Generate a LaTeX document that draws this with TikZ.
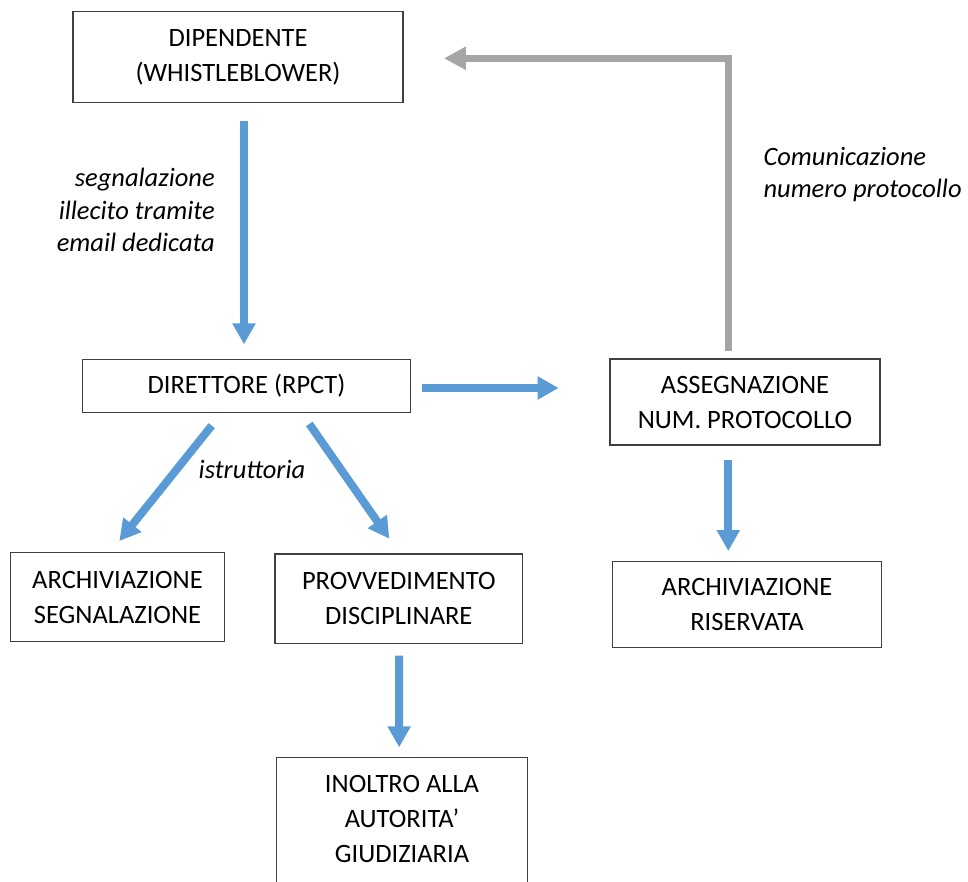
\documentclass[tikz,border=0pt]{standalone}
\usepackage{fontspec}
\setmainfont{Carlito}
\usetikzlibrary{arrows.meta}
\definecolor{ablue}{HTML}{5B9BD5}
\definecolor{agrey}{HTML}{A5A5A5}
\definecolor{boxline}{HTML}{404040}
\begin{document}
\begin{tikzpicture}[x=1pt,y=-1pt,
  box/.style={draw=boxline, line width=1.3pt, inner sep=0pt, align=center, font=\fontsize{26.5}{35}\selectfont},
  lab/.style={inner sep=0pt, font=\fontsize{26.5}{32.5}\selectfont\itshape},
  barrow/.style={draw=ablue, line width=8pt, -{Triangle[width=22pt,length=21pt]}},
  garrow/.style={draw=agrey, line width=7.5pt, -{Triangle[width=22pt,length=22pt]}}]
\useasboundingbox (0,0) rectangle (968,881);
\clip (0,0) rectangle (968,881);
\fill[white] (0,0) rectangle (968,881);

\node[box, minimum width=330pt, minimum height=91pt] (dip) at (238,57.2) {DIPENDENTE\\(WHISTLEBLOWER)};
\node[box, minimum width=328.4pt, minimum height=53.4pt] (dir) at (246.5,386) {DIRETTORE (RPCT)};
\node[box, minimum width=270pt, minimum height=86pt] (ass) at (745,402) {ASSEGNAZIONE\\NUM. PROTOCOLLO};
\node[box, minimum width=269.4pt, minimum height=85.6pt] (arcr) at (747,604.5) {ARCHIVIAZIONE\\RISERVATA};
\node[box, minimum width=213.6pt, minimum height=89pt] (arcs) at (117.5,597.2) {ARCHIVIAZIONE\\SEGNALAZIONE};
\node[box, minimum width=247.7pt, minimum height=89.3pt] (prov) at (398.8,598.7) {PROVVEDIMENTO\\DISCIPLINARE};
\node[box, draw=none, minimum width=249.4pt, minimum height=121.8pt, anchor=north] (inol) at (402,757.3) {INOLTRO ALLA\\AUTORITA’\\GIUDIZIARIA};
\draw[boxline, line width=1.3pt] ([yshift=-15pt]inol.south west) -- (inol.north west) -- (inol.north east) -- ([yshift=-15pt]inol.south east);

\draw[barrow, shorten <=17.3pt, shorten >=14.3pt] ([xshift=6pt]dip.south) -- ([xshift=-2.5pt]dir.north);
\draw[barrow, shorten <=11pt, shorten >=50.7pt] ([yshift=-2pt]dir.east) -- ([yshift=14pt]ass.west);
\draw[barrow] ([xshift=-34.8pt,yshift=-12.3pt]dir.south) -- ([xshift=1.8pt,yshift=11pt]arcs.north);
\draw[barrow] ([xshift=62.8pt,yshift=-10.6pt]dir.south) -- ([xshift=-9.5pt,yshift=14.7pt]prov.north);
\draw[barrow, shorten <=11.7pt, shorten >=10pt] ([xshift=0.2pt]prov.south) -- ([xshift=-2.8pt]inol.north);
\draw[barrow, shorten <=14.3pt, shorten >=10pt] ([xshift=-16.7pt]ass.south) -- ([xshift=-18.7pt]arcr.north);
\draw[garrow, shorten >=40.3pt] ([xshift=-16.7pt,yshift=7.3pt]ass.north) |- ([yshift=-1.1pt]dip.east);

\node[lab, align=right, anchor=base east] (l1) at (215,251.7) {segnalazione\\illecito tramite\\email dedicata};
\node[lab, align=left, anchor=base west] (l2) at (763.3,197.7) {Comunicazione\\numero protocollo};
\node[lab, anchor=base] (l3) at (252,478) {istruttoria};
\end{tikzpicture}
\end{document}
